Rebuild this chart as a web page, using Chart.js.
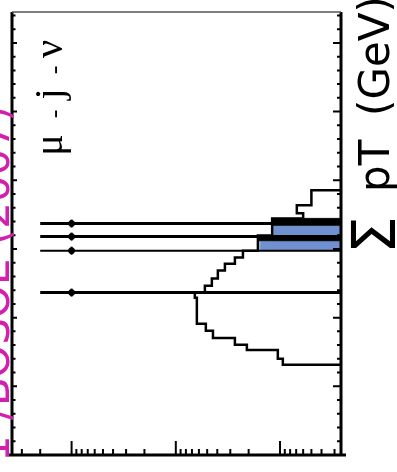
<!DOCTYPE html>
<html>
<head>
<meta charset="utf-8">
<script src="https://cdn.jsdelivr.net/npm/chart.js@4.4.1/dist/chart.umd.min.js"></script>
<style>
  html, body { margin: 0; padding: 0; background: #fff; }
  canvas { display: block; }
</style>
</head>
<body>
<canvas id="myChart" width="397" height="472"></canvas>
<script>
/* globals Chart:false */
(() => {
  "use strict";

  // white histogram: sum pT bin edges (GeV) and events per bin
  const sumPtEdges = [26.3, 28.0, 30.6, 32.1, 34.1, 36.2, 38.2, 45.8, 47.3, 49.3, 51.4, 53.7, 55.7, 57.5, 59.5, 63.9, 68.9, 70.4, 72.7, 77.1];
  const eventCounts = [9.4, 10.5, 20.8, 27.1, 44.0, 51.5, 62.8, 65.7, 52.6, 45.1, 39.5, 33.8, 27.1, 22.7, 16.3, 11.9, 6.0, 6.9, 5.0];

  // blue component
  const blueEdges = [59.5, 62.4, 66.9];
  const blueCounts = [15.6, 11.7];

  // dark component
  const darkEdges = [62.4, 63.9, 66.9, 68.9];
  const darkCounts = [16.3, 0, 11.9];

  // long lines with a point on them
  const lineSumPt = [67.4, 63.6, 59.5, 47.3];
  const lineTop = [2000, 2000, 2000, 2000];
  const pointCount = [1000, 1000, 1000, 1000];

  // axis ranges
  const countMin = 2.6;
  const countMax = 3730;
  const sumPtMax = 129;

  const lineWidths = [3, 3, 2, 3];

  const steps = (edges, counts) => {
    const pts = [{ x: countMin, y: edges[0] }];
    counts.forEach((c, i) => {
      const v = c > 0 ? c : countMin;
      pts.push({ x: v, y: edges[i] }, { x: v, y: edges[i + 1] });
    });
    pts.push({ x: countMin, y: edges[edges.length - 1] });
    return pts;
  };

  const datasets = [];
  datasets.push({
    data: lineSumPt.map((s, i) => ({ x: pointCount[i], y: s })),
    showLine: false,
    pointStyle: "circle",
    pointRadius: 3,
    pointBackgroundColor: "#000",
    pointBorderColor: "#000",
  });
  datasets.push({
    data: lineSumPt.map((s, i) => ({ x: pointCount[i], y: s })),
    showLine: false,
    pointStyle: "line",
    rotation: 90,
    pointRadius: 4,
    pointBorderWidth: 2,
    pointBorderColor: "#000",
  });
  lineSumPt.forEach((s, i) => {
    datasets.push({
      data: [{ x: lineTop[i], y: s }, { x: countMin, y: s }],
      borderColor: "#000",
      borderWidth: lineWidths[i],
      pointRadius: 0,
    });
  });
  datasets.push({
    data: steps(sumPtEdges, eventCounts),
    borderColor: "#000",
    borderWidth: 2.5,
    pointRadius: 0,
  });
  datasets.push({
    data: steps(darkEdges, darkCounts),
    borderColor: "#000",
    backgroundColor: "#000",
    borderWidth: 1,
    pointRadius: 0,
    fill: { value: countMin },
  });
  datasets.push({
    data: steps(blueEdges, blueCounts),
    borderColor: "#9fb4e0",
    backgroundColor: "#7190cf",
    borderWidth: 1,
    pointRadius: 0,
    fill: { value: countMin },
  });

  const frame = {
    id: "frame",
    afterDatasetsDraw(chart) {
      const { ctx, chartArea: a, scales: { x, y } } = chart;
      ctx.save();
      ctx.strokeStyle = "#000";
      ctx.lineWidth = 2;
      // log ticks on the bottom axis
      for (let d = 0; d <= 3; d++) {
        for (let m = 1; m <= 9; m++) {
          const v = m * Math.pow(10, d);
          if (v < countMin || v > countMax) continue;
          const px = x.getPixelForValue(v);
          const len = m === 1 ? 14 : 6;
          ctx.beginPath();
          ctx.moveTo(px, a.bottom);
          ctx.lineTo(px, a.bottom - len);
          ctx.stroke();
        }
      }
      // ticks on the side axes
      for (let v = 0; v <= sumPtMax; v += 4) {
        const py = y.getPixelForValue(v);
        const major = v % 20 === 0;
        ctx.beginPath();
        ctx.moveTo(a.right, py);
        ctx.lineTo(a.right - (major ? 8 : 4), py);
        ctx.moveTo(a.left, py);
        ctx.lineTo(a.left + (major ? 5 : 3.5), py);
        ctx.stroke();
      }
      // frame
      ctx.lineWidth = 3;
      ctx.beginPath();
      ctx.moveTo(a.left, a.top);
      ctx.lineTo(a.left, a.bottom);
      ctx.moveTo(a.right, a.top);
      ctx.lineTo(a.right, a.bottom);
      ctx.moveTo(a.left - 3, a.bottom);
      ctx.lineTo(a.right + 5, a.bottom);
      ctx.stroke();
      ctx.strokeStyle = "#555";
      ctx.lineWidth = 1.5;
      ctx.beginPath();
      ctx.moveTo(a.left, a.top);
      ctx.lineTo(a.right, a.top);
      ctx.stroke();
      ctx.restore();
    },
    afterDraw(chart) {
      const { ctx } = chart;
      const rot = (px, py, fn) => {
        ctx.save();
        ctx.translate(px, py);
        ctx.rotate(-Math.PI / 2);
        fn();
        ctx.restore();
      };
      // channel label
      ctx.fillStyle = "#000";
      ctx.textAlign = "center";
      ctx.textBaseline = "alphabetic";
      ctx.font = "40px 'Liberation Serif'";
      rot(62, 145, () => ctx.fillText("μ", 0, 0));
      rot(62, 94, () => ctx.fillText("j", 0, 0));
      rot(62, 49, () => ctx.fillText("ν", 0, 0));
      ctx.font = "26px 'Liberation Serif'";
      rot(62, 114, () => ctx.fillText("-", 0, 0));
      rot(62, 70, () => ctx.fillText("-", 0, 0));
      // axis title
      ctx.textAlign = "left";
      ctx.font = "60px 'DejaVu Sans'";
      rot(395, 254, () => ctx.fillText("Σ", 0, 0));
      ctx.font = "42px 'DejaVu Sans'";
      rot(389, 192, () => ctx.fillText("pT", 0, 0));
      rot(389, 116, () => ctx.fillText("(GeV)", 0, 0));
      // annotation at the left edge
      ctx.fillStyle = "#d21fb0";
      ctx.font = "42px 'DejaVu Sans'";
      rot(9, 462, () => ctx.fillText("1-/BOSOE (2007)", 0, 0));
    },
  };

  const ctx = document.getElementById("myChart");
  // eslint-disable-next-line no-unused-vars
  const myChart = new Chart(ctx, {
    type: "line",
    data: { datasets },
    plugins: [frame],
    options: {
      indexAxis: "y",
      responsive: false,
      animation: false,
      layout: { padding: { left: 12, right: 56, top: 12, bottom: 17 } },
      elements: { line: { tension: 0, fill: false } },
      scales: {
        x: {
          type: "logarithmic",
          reverse: true,
          min: countMin,
          max: countMax,
          ticks: { display: false },
          grid: { display: false, drawTicks: false },
          border: { display: false },
        },
        y: {
          type: "linear",
          position: "right",
          min: 0,
          max: sumPtMax,
          ticks: { display: false },
          grid: { display: false, drawTicks: false },
          border: { display: false },
        },
      },
      plugins: {
        legend: { display: false },
        tooltip: { enabled: false },
      },
    },
  });
})();
</script>
</body>
</html>
